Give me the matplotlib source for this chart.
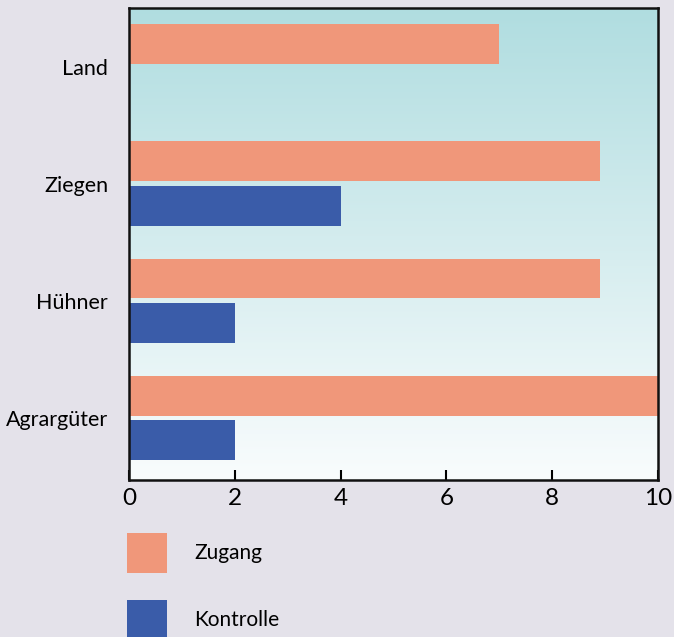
import numpy as np
import matplotlib.pyplot as plt
from matplotlib.patches import Patch
from matplotlib.colors import LinearSegmentedColormap

# Daten
kategorien = ['Land', 'Ziegen', 'Hühner', 'Agrargüter']
zugang = [7.0, 8.9, 8.9, 10.0]
kontrolle = [0, 4.0, 2.0, 2.0]
serien = ['Zugang', 'Kontrolle']

farbe_zugang = '#f0977a'
farbe_kontrolle = '#3a5ca9'

plt.rcParams['font.family'] = ['Lato', 'DejaVu Sans']

fig = plt.figure(figsize=(6.74, 6.37), dpi=100)
fig.patch.set_facecolor('#e4e2ea')
ax = fig.add_axes([0.1914, 0.2465, 0.785, 0.741])

# Hintergrund-Verlauf im Diagramm
cmap = LinearSegmentedColormap.from_list('bg', ['#b0dde0', '#f9fcfd'])
grad = np.linspace(0, 1, 256).reshape(-1, 1)
ax.imshow(grad, cmap=cmap, aspect='auto', extent=[0, 1, 0, 1],
          transform=ax.transAxes, zorder=0)

y = np.arange(len(kategorien))
h = 0.34
ax.barh(y - 0.19, zugang, height=h, color=farbe_zugang, zorder=2)
ax.barh(y + 0.19, kontrolle, height=h, color=farbe_kontrolle, zorder=2)

ax.set_xlim(0, 10)
ax.set_ylim(3.53, -0.5)
ax.set_yticks(y)
ax.set_yticklabels(kategorien)
ax.set_xticks([0, 2, 4, 6, 8, 10])
ax.tick_params(axis='y', length=0, pad=15, labelsize=15.5)
ax.tick_params(axis='x', direction='in', length=7, width=1.5, pad=6, labelsize=17.5)
for s in ax.spines.values():
    s.set_linewidth(1.8)
    s.set_color('#111111')

handles = [Patch(facecolor=farbe_zugang), Patch(facecolor=farbe_kontrolle)]
fig.legend(handles, serien, loc='upper left', bbox_to_anchor=(0.1884, 0.1633),
           frameon=False, fontsize=15, handlelength=1.92, handleheight=2.58,
           labelspacing=1.3, handletextpad=1.3, borderpad=0, borderaxespad=0)

plt.savefig('out.png', dpi=100, facecolor=fig.get_facecolor())
